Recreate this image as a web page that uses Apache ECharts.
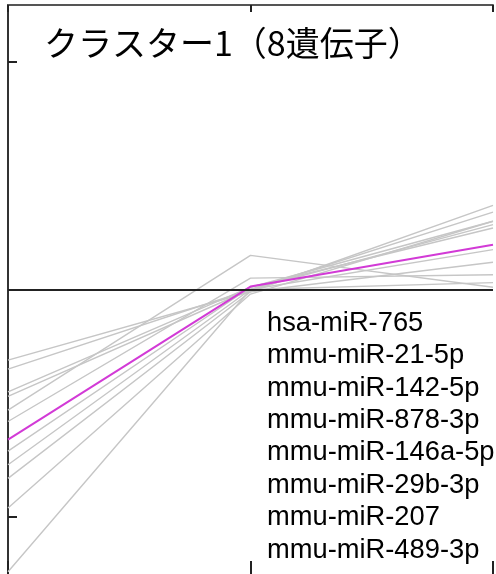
<!DOCTYPE html>
<html>
<head>
<meta charset="utf-8">
<script src="https://cdn.jsdelivr.net/npm/echarts@6/dist/echarts.min.js"></script>
<style>
  html, body { margin: 0; padding: 0; background: #fff; }
  #chart { width: 496px; height: 574px; }
</style>
</head>
<body>
<div id="chart"></div>
<script>
// Time points along the x axis (0, 1, 2)
const timePoints = [0, 1, 2];

// Normalised expression profiles of the cluster members (grey lines)
const memberProfiles = [
  [-0.31, -0.01, 0.37],
  [-0.35, 0.00, 0.34],
  [-0.45, 0.01, 0.30],
  [-0.47, 0.00, 0.285],
  [-0.53, 0.15, 0.01],
  [-0.58, 0.05, 0.065],
  [-0.71, 0.01, 0.27],
  [-0.77, 0.00, 0.175],
  [-0.83, -0.01, 0.12],
  [-0.96, -0.02, 0.30],
  [-1.24, 0.00, 0.03]
];

// Cluster centroid (magenta line)
const centroid = [-0.66, 0.013, 0.197];

// Title and member names
const clusterTitle = 'クラスター1（8遺伝子）';
const memberNames = [
  'hsa-miR-765',
  'mmu-miR-21-5p',
  'mmu-miR-142-5p',
  'mmu-miR-878-3p',
  'mmu-miR-146a-5p',
  'mmu-miR-29b-3p',
  'mmu-miR-207',
  'mmu-miR-489-3p'
];

// Y axis tick values
const yTicks = [-1, 0, 1];

const chart = echarts.init(document.getElementById('chart'), null, { renderer: 'canvas' });

const toPoints = (vals) => vals.map((v, i) => [timePoints[i], v]);

const frameColor = '#333';

const series = memberProfiles.map((p) => ({
  type: 'line',
  data: toPoints(p),
  symbol: 'none',
  silent: true,
  lineStyle: { color: '#c6c6c6', width: 1.4 },
  z: 2
}));

series.push({
  type: 'line',
  data: toPoints(centroid),
  symbol: 'none',
  silent: true,
  lineStyle: { color: '#d23ad6', width: 2 },
  z: 3,
  markLine: {
    silent: true,
    symbol: 'none',
    label: { show: false },
    lineStyle: { color: '#222', width: 2, type: 'solid' },
    data: [{ yAxis: 0 }]
  }
});

const option = {
  animation: false,
  backgroundColor: '#fff',
  grid: { left: 8, top: 5, width: 485, height: 571, containLabel: false },
  xAxis: [
    {
      type: 'value', min: 0, max: 2, interval: 1, position: 'bottom',
      axisLine: { show: false, onZero: false },
      axisTick: { show: true, inside: true, length: 13, lineStyle: { color: '#222', width: 2 } },
      axisLabel: { show: false },
      splitLine: { show: false }
    },
    {
      type: 'value', min: 0, max: 2, interval: 1, position: 'top',
      axisLine: { show: true, onZero: false, lineStyle: { color: '#555', width: 2 } },
      axisTick: { show: true, inside: true, length: 7, lineStyle: { color: '#222', width: 2 } },
      axisLabel: { show: false },
      splitLine: { show: false }
    }
  ],
  yAxis: [
    {
      type: 'value', min: -1.25, max: 1.25,
      position: 'left',
      axisLine: { show: true, lineStyle: { color: '#222', width: 2 } },
      axisTick: { show: true, inside: true, length: 9, customValues: yTicks, lineStyle: { color: '#222', width: 2 } },
      axisLabel: { show: false, customValues: yTicks },
      splitLine: { show: false }
    },
    {
      type: 'value', min: -1.25, max: 1.25,
      position: 'right',
      axisLine: { show: true, lineStyle: { color: frameColor, width: 2 } },
      axisTick: { show: false },
      axisLabel: { show: false },
      splitLine: { show: false }
    }
  ],
  series: series,
  graphic: [
    {
      type: 'text',
      left: 44,
      top: 26,
      z: 10,
      style: {
        text: clusterTitle,
        font: '34px "Noto Sans CJK JP", sans-serif',
        fill: '#000'
      }
    },
    {
      type: 'text',
      left: 267,
      top: 307,
      z: 10,
      style: {
        text: memberNames.join('\n'),
        font: '27.3px "Liberation Sans", Arial, sans-serif',
        lineHeight: 32.4,
        fill: '#000'
      }
    }
  ]
};

chart.setOption(option);
</script>
</body>
</html>
